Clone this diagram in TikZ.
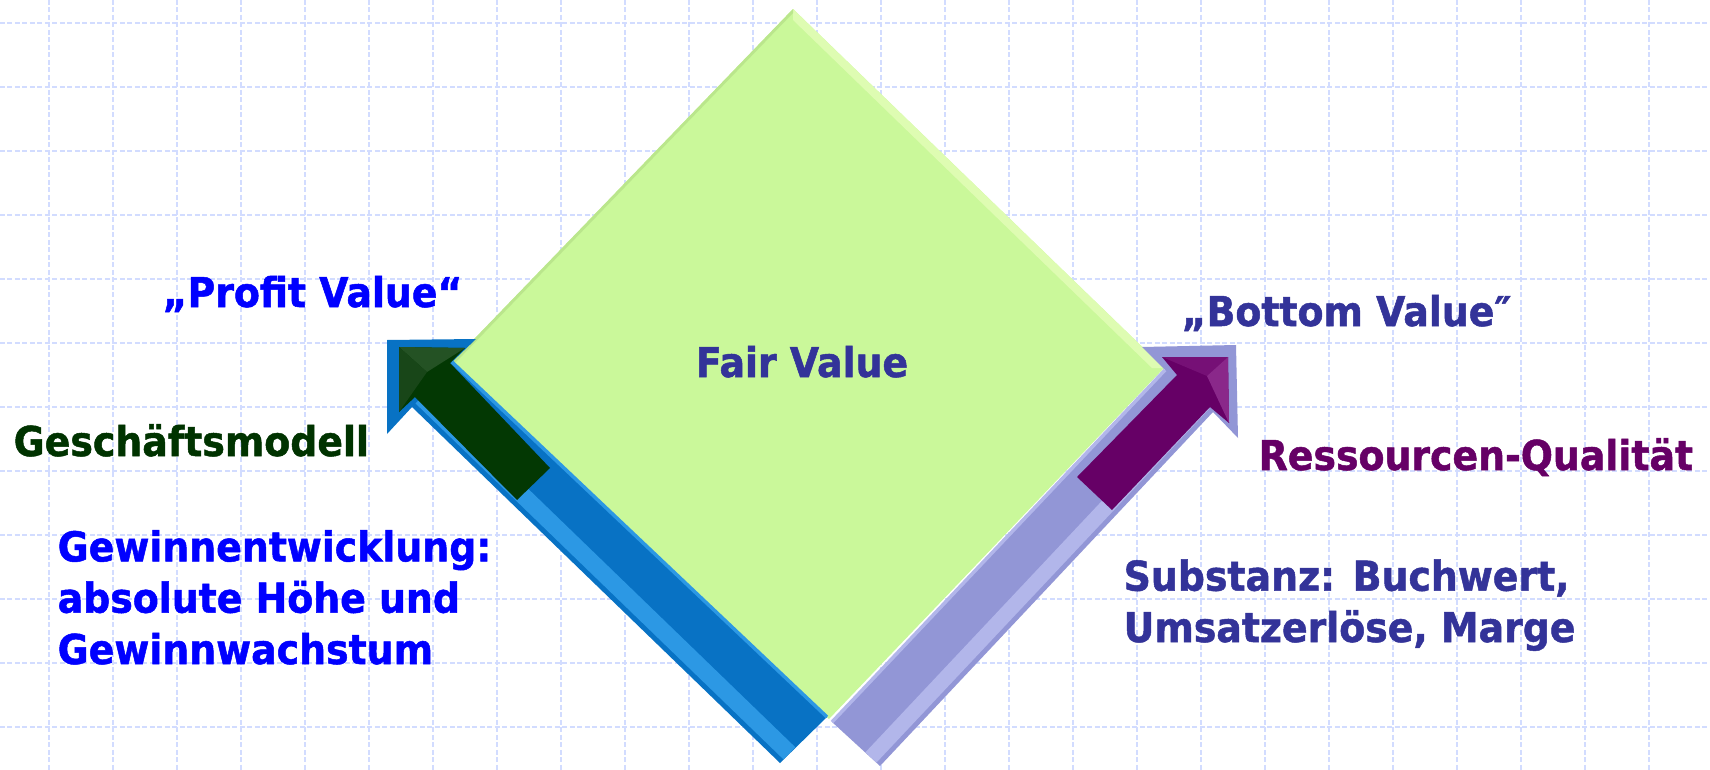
\documentclass[tikz,border=0pt]{standalone}
\usepackage{fontspec}
\setmainfont{DejaVu Sans}[FakeStretch=0.92, BoldFeatures={FakeBold=1.2}]
\usepackage{xcolor}
\usetikzlibrary{calc}

\definecolor{gridblue}{RGB}{210,220,255}
\definecolor{diamondgreen}{RGB}{202,248,154}
\definecolor{diamondlight}{RGB}{222,252,178}
\definecolor{diamonddark}{RGB}{186,230,140}
\definecolor{barblue}{RGB}{8,114,196}
\definecolor{barbluelight}{RGB}{44,152,228}
\definecolor{arrowgreen}{RGB}{3,56,3}
\definecolor{arrowgreenA}{RGB}{36,82,36}
\definecolor{arrowgreenB}{RGB}{24,70,24}
\definecolor{barlav}{RGB}{146,150,214}
\definecolor{barlavlight}{RGB}{178,182,234}
\definecolor{arrowpurple}{RGB}{102,0,102}
\definecolor{arrowpurpleA}{RGB}{118,16,118}
\definecolor{arrowpurpleB}{RGB}{138,40,138}
\definecolor{profitblue}{RGB}{0,0,255}
\definecolor{modelgreen}{RGB}{0,51,0}
\definecolor{valueslate}{RGB}{51,51,153}
\definecolor{resspurple}{RGB}{102,0,102}

\begin{document}
\begin{tikzpicture}[
    x=0.1mm, y=-0.1mm,
    txt/.style={font=\fontsize{11.7pt}{14.6pt}\selectfont\bfseries, inner sep=0pt, align=left},
    gridline/.style={draw=gridblue, line width=0.4pt, dash pattern=on 0.5mm off 0.25mm}
]
\useasboundingbox[fill=white] (0,0) rectangle (1710,770);

% Background grid
\foreach \gx in {49,113,...,1710} \draw[gridline] (\gx,0) -- (\gx,770);
\foreach \gy in {23,87,...,770} \draw[gridline] (0,\gy) -- (1710,\gy);

% Fair value diamond
\coordinate (dtop) at (793,9);
\coordinate (dright) at (1164,368);
\coordinate (dbot) at (829,719);
\coordinate (dleft) at (452,362);
\fill[diamondgreen] (dtop) -- (dright) -- (dbot) -- (dleft) -- cycle;
\fill[diamondlight] (dtop) -- (dright) -- (1152,368) -- (793,20) -- cycle;
\fill[diamonddark] (dtop) -- (793,13) -- (456,362) -- (dleft) -- cycle;

% Profit value bar (blue)
\coordinate (bt) at (387,340);
\coordinate (bhr) at (476,339);
\coordinate (bij) at (452,362);
\coordinate (bbe) at (827,717);
\coordinate (bbo) at (780,763);
\coordinate (boj) at (412,407);
\coordinate (bhb) at (387,434);
\fill[barblue] (bt) -- (bhr) -- (bij) -- (bbe) -- (bbo) -- (boj) -- (bhb) -- cycle;
\fill[barbluelight] (415.5,403.4) -- (783.5,759.4) -- (795.3,747.2) -- (427.3,391.2) -- cycle;
\draw[barbluelight, line width=1pt] (bij) -- (bbe);

% Geschaeftsmodell arrow (dark green)
\coordinate (gt) at (399,347);
\coordinate (ghr) at (465,348);
\coordinate (gij) at (450,363);
\coordinate (gbe) at (550,468);
\coordinate (gbo) at (517,500);
\coordinate (goj) at (415,397);
\coordinate (ghb) at (399,412);
\coordinate (gc) at (427,372);
\fill[arrowgreen] (gt) -- (ghr) -- (gij) -- (gbe) -- (gbo) -- (goj) -- (ghb) -- cycle;
\fill[arrowgreenA] (gt) -- (ghr) -- (gc) -- cycle;
\fill[arrowgreenB] (gt) -- (gc) -- (ghb) -- cycle;

% Bottom value bar (lavender)
\coordinate (lij) at (1165,370);
\coordinate (lhl) at (1142,347);
\coordinate (lt) at (1236,345);
\coordinate (lhb) at (1238,438);
\coordinate (loj) at (1213,412);
\coordinate (lbo) at (880,766);
\coordinate (lbe) at (832,722);
\fill[barlav] (lij) -- (lhl) -- (lt) -- (lhb) -- (loj) -- (lbo) -- (lbe) -- cycle;
\fill[barlavlight] (1209.4,408.6) -- (876.4,762.6) -- (865.4,752.3) -- (1198.4,398.3) -- cycle;
\draw[barlavlight, line width=1pt] (lbe) -- (lij);

% Ressourcen arrow (purple)
\coordinate (pij) at (1177,375);
\coordinate (phl) at (1162,357);
\coordinate (pt) at (1228,357);
\coordinate (phb) at (1229,423);
\coordinate (poj) at (1210,407);
\coordinate (pbo) at (1112,510);
\coordinate (pbe) at (1077,477);
\coordinate (pc) at (1207,376);
\fill[arrowpurple] (pij) -- (phl) -- (pt) -- (phb) -- (poj) -- (pbo) -- (pbe) -- cycle;
\fill[arrowpurpleA] (phl) -- (pt) -- (pc) -- cycle;
\fill[arrowpurpleB] (pt) -- (phb) -- (pc) -- cycle;

% Labels
\node[txt, text=profitblue, anchor=base west] (profit) at (162,307) {„Profit Value“};
\node[txt, text=modelgreen, anchor=base west] (modell) at (13,456) {Geschäftsmodell};
\node[txt, text=profitblue, anchor=base west] (gewinn) at (57,664) {Gewinnentwicklung:\\absolute Höhe und\\Gewinnwachstum};
\node[txt, text=valueslate, anchor=base] (fair) at (802,377) {Fair Value};
\node[txt, text=valueslate, anchor=base west] (bottom) at (1181,326) {„Bottom Value″};
\node[txt, text=resspurple, anchor=base west] (ressourcen) at (1258,470) {Ressourcen-Qualität};
\node[txt, text=valueslate, anchor=base west] (substanz) at (1123,642) {Substanz: Buchwert,\\Umsatzerlöse, Marge};

\end{tikzpicture}
\end{document}
